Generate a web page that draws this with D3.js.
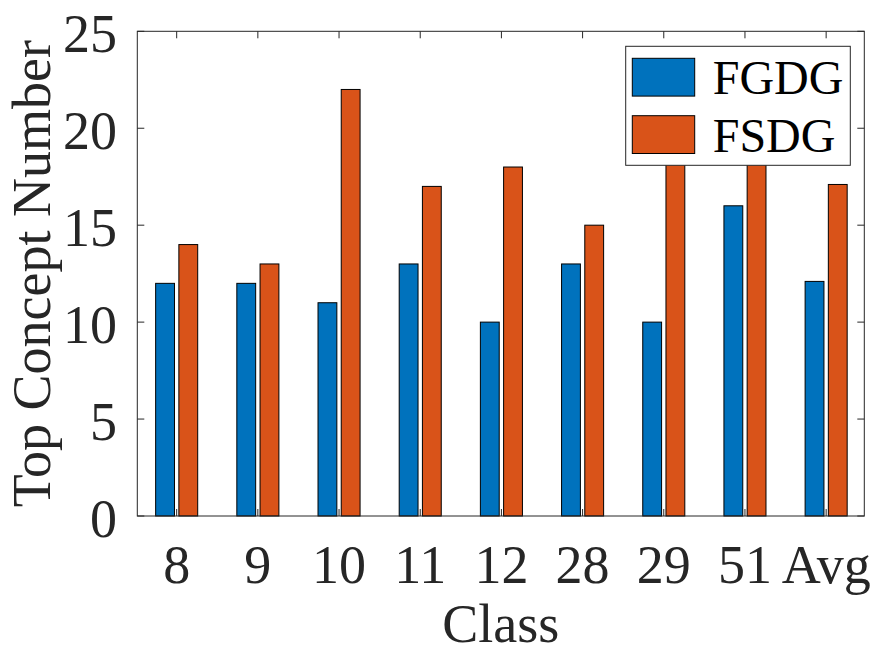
<!DOCTYPE html>
<html><head><meta charset="utf-8">
<script src="https://cdn.jsdelivr.net/npm/d3@7/dist/d3.min.js"></script>
<style>
body{margin:0;background:#fff}
svg{display:block}
svg text{font-family:"Liberation Serif","Times New Roman",Tinos,serif}
</style>
</head><body>
<script>
const categories = ["8","9","10","11","12","28","29","51","Avg"];
const seriesNames = ["FGDG","FSDG"];
const fgdg = [12,12,11,13,10,13,10,16,12.1];
const fsdg = [14,13,22,17,18,15,19,19,17.1];
const yTicks = [0,5,10,15,20,25];
const colors = ["#0072BD","#D95319"];

const W = 875, H = 656;
const L = 137.3, R = 864.3, T = 31.3, B = 516;
const svg = d3.select("body").append("svg").attr("width",W).attr("height",H);
const ink = "#262626";

const x = d3.scaleLinear().domain([0.515, 9.47]).range([L, R]);
const y = d3.scaleLinear().domain([0, 25]).range([B, T]);
const unit = x(2) - x(1);
const bw = 0.232 * unit, off = 0.143 * unit;

const series = [fgdg, fsdg];
series.forEach((vals, s) => {
  svg.append("g").selectAll("rect").data(vals).join("rect")
    .attr("x", (d,i) => x(i+1) + (s === 0 ? -off : off) - bw/2)
    .attr("y", d => y(d))
    .attr("width", bw)
    .attr("height", d => y(0) - y(d))
    .attr("fill", colors[s])
    .attr("stroke", "#000").attr("stroke-width", 1);
});

// axes box
const ax = svg.append("g").attr("stroke", ink).attr("stroke-width", 1).attr("fill","none");
ax.append("rect").attr("x", L).attr("y", T).attr("width", R-L).attr("height", B-T);
const tl = 7;
yTicks.forEach(v => {
  ax.append("line").attr("x1", L).attr("x2", L+tl).attr("y1", y(v)).attr("y2", y(v));
  ax.append("line").attr("x1", R).attr("x2", R-tl).attr("y1", y(v)).attr("y2", y(v));
});
categories.forEach((c,i) => {
  ax.append("line").attr("x1", x(i+1)).attr("x2", x(i+1)).attr("y1", B).attr("y2", B-tl);
  ax.append("line").attr("x1", x(i+1)).attr("x2", x(i+1)).attr("y1", T).attr("y2", T+tl);
});

// tick labels
svg.append("g").selectAll("text").data(yTicks).join("text")
  .attr("x", 117).attr("y", d => y(d) + 21)
  .attr("text-anchor","end").attr("font-size", 54).attr("fill", ink)
  .text(d => d);
svg.append("g").selectAll("text").data(categories).join("text")
  .attr("x", (d,i) => x(i+1)).attr("y", 583)
  .attr("text-anchor","middle").attr("font-size", 54).attr("fill", ink)
  .text(d => d);

// axis labels
svg.append("text").attr("x", (L+R)/2).attr("y", 642)
  .attr("text-anchor","middle").attr("font-size", 54).attr("fill", ink)
  .text("Class");
svg.append("text").attr("transform", `translate(50,${(T+B)/2}) rotate(-90)`)
  .attr("text-anchor","middle").attr("font-size", 54).attr("fill", ink)
  .text("Top Concept Number");

// legend
const lg = svg.append("g");
lg.append("rect").attr("x", 625.7).attr("y", 46.3).attr("width", 224.6).attr("height", 119)
  .attr("fill","#fff").attr("stroke", ink).attr("stroke-width", 1);
seriesNames.forEach((n, s) => {
  const yy = [58.3, 115.7][s];
  lg.append("rect").attr("x", 632.3).attr("y", yy).attr("width", 62.4).attr("height", 37.8)
    .attr("fill", colors[s]).attr("stroke", "#000").attr("stroke-width", 1);
  lg.append("text").attr("x", 712.7).attr("y", [94, 151.5][s])
    .attr("font-size", 48).attr("fill", "#000").text(n);
});
</script>
</body></html>
